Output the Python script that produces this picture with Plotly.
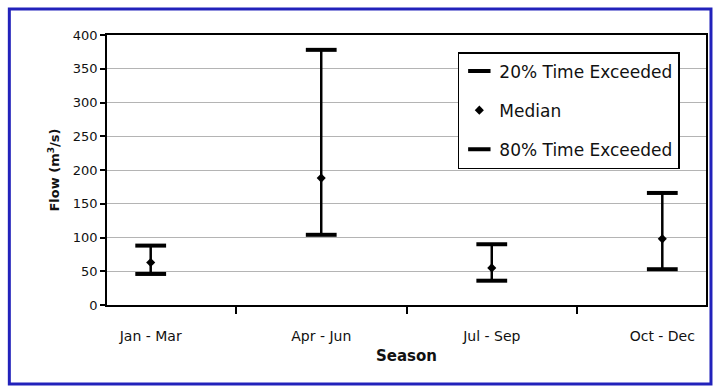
import plotly.graph_objects as go

seasons = ["Jan - Mar", "Apr - Jun", "Jul - Sep", "Oct - Dec"]
exceed20 = [88, 378, 90, 166]
median = [63, 188, 55, 98]
exceed80 = [46, 104, 36, 53]

FONT = "DejaVu Sans"
W, H = 719, 389
ML, MR, MT, MB = 107, 11, 35, 84

fig = go.Figure()

fig.add_trace(go.Scatter(
    x=seasons, y=exceed20, mode="markers", name="20% Time Exceeded",
    legendgroup="a",
    marker=dict(symbol="line-ew", size=22, color="black",
                line=dict(color="black", width=4)),
))
fig.add_trace(go.Scatter(
    x=seasons, y=median, mode="markers", name="Median",
    legendgroup="b",
    marker=dict(symbol="diamond", size=7, color="black"),
    error_y=dict(type="data", symmetric=False,
                 array=[h - m for h, m in zip(exceed20, median)],
                 arrayminus=[m - l for m, l in zip(median, exceed80)],
                 color="black", thickness=2.5, width=0),
))
fig.add_trace(go.Scatter(
    x=seasons, y=exceed80, mode="markers", name="80% Time Exceeded",
    legendgroup="c",
    marker=dict(symbol="line-ew", size=22, color="black",
                line=dict(color="black", width=4)),
))

pw = W - ML - MR
ph = H - MT - MB
def px2paper_x(px):
    return (px - ML) / pw
def px2paper_y(py):
    return (H - MB - py) / ph

fig.add_shape(type="rect", xref="paper", yref="paper",
              x0=px2paper_x(9), x1=px2paper_x(713),
              y0=px2paper_y(384), y1=px2paper_y(9),
              line=dict(color="#2222bb", width=3), layer="above")

fig.update_layout(
    width=W, height=H,
    margin=dict(l=ML, r=MR, t=MT, b=MB),
    paper_bgcolor="white", plot_bgcolor="white",
    font=dict(family=FONT, size=13, color="#111111"),
    showlegend=True,
    legend=dict(
        x=px2paper_x(459), y=px2paper_y(52), xanchor="left", yanchor="top",
        bordercolor="black", borderwidth=1.5, bgcolor="white",
        font=dict(family=FONT, size=17, color="#111111"),
        tracegroupgap=14, traceorder="grouped",
    ),
    xaxis=dict(
        type="category", tickson="boundaries", ticks="outside", ticklen=7,
        tickwidth=1.5, tickcolor="black",
        showline=True, linecolor="black", linewidth=1.5, mirror=True,
        showgrid=False, ticklabelstandoff=17,
        tickfont=dict(family=FONT, size=14, color="#111111"),
        title=dict(text="Season", font=dict(family=FONT, size=15, color="#111111", weight="bold"),
                   standoff=8),
    ),
    yaxis=dict(
        range=[0, 400], dtick=50, ticks="outside", ticklen=5, tickwidth=1.5,
        tickcolor="black",
        showline=True, linecolor="black", linewidth=1.5, mirror=True,
        showgrid=True, gridcolor="#b4b4b4", gridwidth=1.2, zeroline=False,
        tickfont=dict(family=FONT, size=13, color="#111111"),
        title=dict(text="Flow (m<sup>3</sup>/s)",
                   font=dict(family=FONT, size=13, color="#111111", weight="bold"),
                   standoff=10),
    ),
)

fig.write_html("out.html", config={"displayModeBar": False},
               post_script="document.body.style.margin='0';document.body.style.padding='0';")
